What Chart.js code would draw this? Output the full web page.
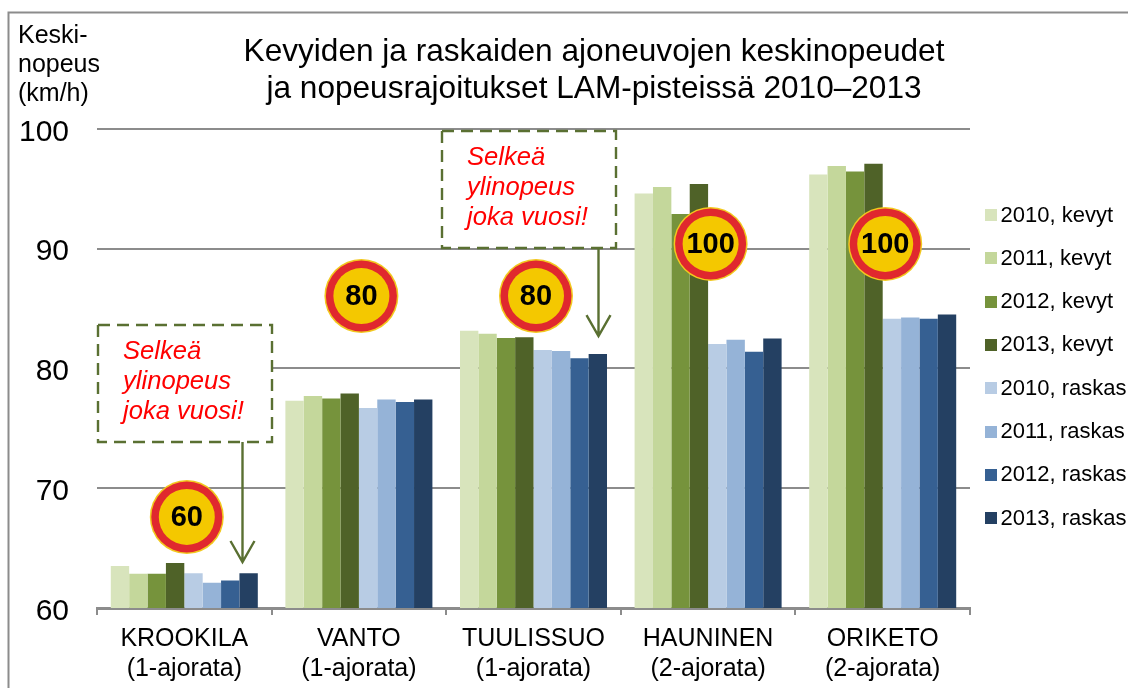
<!DOCTYPE html>
<html><head><meta charset="utf-8">
<style>html,body{margin:0;padding:0;background:#fff;overflow:hidden}canvas{display:block}</style>
<script src="https://cdn.jsdelivr.net/npm/chart.js@4"></script>
</head><body>
<div style="width:1128px;height:688px"><canvas id="c" width="1128" height="688"></canvas></div>
<script>
const categories = [['KROOKILA','(1-ajorata)'],['VANTO','(1-ajorata)'],['TUULISSUO','(1-ajorata)'],['HAUNINEN','(2-ajorata)'],['ORIKETO','(2-ajorata)']];
const kevyt2010 = [63.5,77.3,83.15,94.6,96.2];
const kevyt2011 = [62.85,77.7,82.9,95.15,96.9];
const kevyt2012 = [62.85,77.5,82.55,92.9,96.45];
const kevyt2013 = [63.75,77.9,82.6,95.4,97.1];
const raskas2010 = [62.9,76.7,81.55,82.05,84.15];
const raskas2011 = [62.1,77.4,81.45,82.4,84.25];
const raskas2012 = [62.3,77.2,80.85,81.4,84.15];
const raskas2013 = [62.9,77.4,81.2,82.5,84.5];
const seriesNames = ['2010, kevyt','2011, kevyt','2012, kevyt','2013, kevyt','2010, raskas','2011, raskas','2012, raskas','2013, raskas'];
const seriesColors = ['#D8E4BC','#C4D79B','#76933C','#4F6228','#B8CCE4','#95B3D7','#366092','#244062'];
const seriesValues = [kevyt2010,kevyt2011,kevyt2012,kevyt2013,raskas2010,raskas2011,raskas2012,raskas2013];
const yTicks = [60,70,80,90,100];
const titleLines = ['Kevyiden ja raskaiden ajoneuvojen keskinopeudet','ja nopeusrajoitukset LAM-pisteissä 2010–2013'];
const axisTitleLines = ['Keski-','nopeus','(km/h)'];
const calloutLines = ['Selkeä','ylinopeus','joka vuosi!'];
const signs = [{t:'60',c:0,v:67.6},{t:'80',c:1,v:86.05},{t:'80',c:2,v:86.05},{t:'100',c:3,v:90.4},{t:'100',c:4,v:90.4}];
const callouts = [{c:0,top:83.63,bottom:73.86,tip:63.84},{c:2,top:99.83,bottom:90.06,tip:82.7}];
const FONT = '"Liberation Sans", Arial, sans-serif';
const GREEN = '#5A7032';

const overlay = {
  id:'overlay',
  beforeDraw(chart){
    const g=chart.ctx; g.save();
    g.strokeStyle='#8c8c8c'; g.lineWidth=2;
    g.beginPath(); g.moveTo(8.5,688); g.lineTo(8.5,12.5); g.lineTo(1128,12.5); g.stroke();
    g.fillStyle='#000'; g.font='25px '+FONT; g.textBaseline='middle'; g.textAlign='left';
    axisTitleLines.forEach((l,i)=>g.fillText(l,18,36.5+i*29));
    seriesNames.forEach((n,i)=>{
      const top=209+i*43.3;
      g.fillStyle=seriesColors[i]; g.fillRect(985,Math.round(top),12,12);
      g.fillStyle='#000'; g.font='22px '+FONT; g.fillText(n,1000.5,top+6.5);
    });
    g.restore();
  },
  afterDatasetsDraw(chart){
    const g=chart.ctx, x=chart.scales.x, y=chart.scales.y; g.save();
    callouts.forEach(k=>{
      const cx=x.getPixelForValue(k.c);
      const off = k.c===0 ? [-86.3,87.7,57.7] : [-91.5,82.5,64.5];
      const l=cx+off[0], r=cx+off[1], ax=Math.round(cx+off[2])+.5, t=y.getPixelForValue(k.top), b=y.getPixelForValue(k.bottom), tip=y.getPixelForValue(k.tip);
      g.fillStyle='#fff'; g.fillRect(l,t,r-l,b-t);
      g.strokeStyle=GREEN; g.lineWidth=2.4; g.setLineDash([12,7]); g.strokeRect(l,t,r-l,b-t); g.setLineDash([]);
      g.beginPath(); g.moveTo(ax,b); g.lineTo(ax,tip); g.moveTo(ax-12,tip-21); g.lineTo(ax,tip); g.lineTo(ax+12,tip-21); g.stroke();
      g.fillStyle='#ff0000'; g.font='italic 25.6px '+FONT; g.textAlign='left'; g.textBaseline='middle';
      calloutLines.forEach((s,i)=>g.fillText(s,l+25,t+27+i*30));
    });
    signs.forEach(s=>{
      const cx=x.getPixelForValue(s.c)+2.5, cy=y.getPixelForValue(s.v);
      g.beginPath(); g.arc(cx,cy,37,0,Math.PI*2); g.fillStyle='#F2C81E'; g.fill();
      g.beginPath(); g.arc(cx,cy,35.5,0,Math.PI*2); g.fillStyle='#E0282E'; g.fill();
      g.beginPath(); g.arc(cx,cy,28,0,Math.PI*2); g.fillStyle='#F4C800'; g.fill();
      g.fillStyle='#000'; g.font='bold 29px '+FONT; g.textAlign='center'; g.textBaseline='middle';
      g.fillText(s.t,cx,cy+1);
    });
    g.restore();
  },
  afterLayout(chart){
    const t=chart.titleBlock; if(t){t.left=60;t.right=1128;}
  }
};

new Chart(document.getElementById('c'),{
  type:'bar',
  data:{labels:categories,datasets:seriesValues.map((d,i)=>({label:seriesNames[i],data:d,backgroundColor:seriesColors[i],barPercentage:1,categoryPercentage:0.842}))},
  plugins:[overlay],
  options:{
    responsive:false,animation:false,
    layout:{padding:{left:0,right:158,top:0,bottom:0}},
    plugins:{
      tooltip:{enabled:false},
      title:{display:true,text:titleLines,color:'#000',font:{family:FONT,size:31.6,weight:'normal',lineHeight:1.17},padding:{top:34,bottom:21}},
      legend:{display:false}
    },
    scales:{
      x:{
        afterFit(s){s.height=80;},
        grid:{offset:true,drawOnChartArea:false,color:'#8c8c8c',lineWidth:2,tickLength:7,drawTicks:true},
        border:{display:true,color:'#8c8c8c',width:3},
        ticks:{color:'#000',maxRotation:0,autoSkip:false,font:{family:FONT,size:25,lineHeight:1.2},padding:9}
      },
      y:{
        min:60,max:100,
        afterFit(s){s.width=97;},
        afterBuildTicks(s){s.ticks=yTicks.map(v=>({value:v}));},
        grid:{color:'#8c8c8c',lineWidth:2,drawTicks:false},
        border:{display:false},
        ticks:{color:'#000',padding:28,labelOffset:3.5,font:{family:FONT,size:30}}
      }
    }
  }
});
</script>
</body></html>
